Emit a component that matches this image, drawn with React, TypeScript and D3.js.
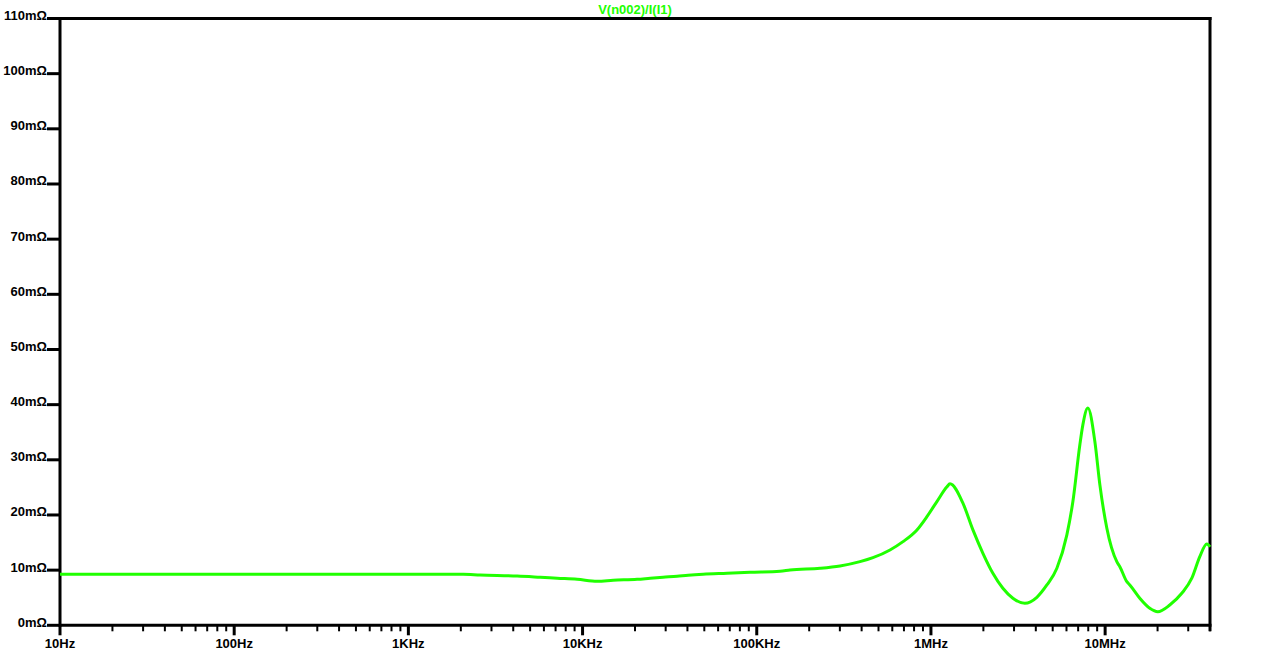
import React from "react";
import * as d3 from "d3";

const freqHz = [
  10, 2065, 2585, 4217, 5714, 7146, 9310, 12130, 14980, 20560, 24430, 29000, 34890, 40360, 49200,
  67530, 91500, 136100, 155200, 230800, 300600, 391500, 464500, 582000, 691000, 831000, 948500,
  1.082e6, 1.236e6, 1.286e6, 1.526e6, 1.742e6, 1.988e6, 2.268e6, 2.588e6, 2.954e6, 3.46e6, 4.055e6,
  4.63e6, 5.284e6, 6.03e6, 6.53e6, 7.16e6, 7.45e6, 7.96e6, 8.73e6, 9.33e6, 1.023e7, 1.167e7, 1.215e7,
  1.332e7, 1.386e7, 1.581e7, 1.805e7, 2.006e7, 2.35e7, 2.754e7, 3.145e7, 3.495e7, 3.833e7, 4.0e7,
];

const impedanceMilliOhm = [
  9.25, 9.25, 9.12, 8.94, 8.71, 8.53, 8.34, 7.98, 8.16, 8.34, 8.53, 8.71, 8.89, 9.07, 9.25,
  9.43, 9.61, 9.8, 10.03, 10.34, 10.76, 11.54, 12.26, 13.66, 15.17, 17.29, 19.7,
  22.43, 25.1, 25.64, 22.14, 17.29, 13.06, 9.43, 6.71, 4.9, 3.99, 5.08,
  7.31, 10.34, 16.39, 22.43, 32.73, 36.33, 39.38, 33.32, 25.46, 17.6, 11.54, 10.63,
  7.91, 7.31, 4.9, 3.08, 2.46, 3.68, 5.8, 8.53, 12.45, 14.75, 14.23,
];

const xMajorTicks = [10, 100, 1e3, 1e4, 1e5, 1e6, 1e7];
const xTickLabels = ["10Hz", "100Hz", "1KHz", "10KHz", "100KHz", "1MHz", "10MHz"];
const yTicks = [0, 10, 20, 30, 40, 50, 60, 70, 80, 90, 100, 110];
const yTickLabels = yTicks.map((v) => `${v}mΩ`);
const traceTitle = "V(n002)/I(I1)";

const W = 1276;
const H = 653;
const LEFT = 60;
const RIGHT = 1210;
const TOP = 18.5;
const BOTTOM = 625.3;
const GREEN = "#20ff00";
const FONT = "'Liberation Sans', Arial, sans-serif";

export default function App() {
  const x = d3.scaleLog().domain([10, 4e7]).range([LEFT, RIGHT]);
  const y = d3.scaleLinear().domain([0, 110]).range([BOTTOM, TOP]);

  const data = freqHz.map((f, i) => [f, impedanceMilliOhm[i]] as [number, number]);
  const line = d3
    .line<[number, number]>()
    .x((d) => x(d[0]))
    .y((d) => y(d[1]))
    .curve(d3.curveMonotoneX);

  const minorTicks: number[] = [];
  for (let dec = 10; dec < 4e7; dec *= 10) {
    for (let m = 2; m <= 9; m++) {
      const f = dec * m;
      if (f <= 4e7) minorTicks.push(f);
    }
  }

  return (
    <svg
      width={W}
      height={H}
      style={{ position: "absolute", left: 0, top: 0, background: "#fff" }}
      fontFamily={FONT}
      fontWeight="bold"
      fontSize={13}
    >
      <text x={(LEFT + RIGHT) / 2} y={14} textAnchor="middle" fill={GREEN}>
        {traceTitle}
      </text>

      {/* minor x ticks */}
      {minorTicks.map((f, i) => (
        <line key={"mn" + i} x1={x(f)} x2={x(f)} y1={BOTTOM} y2={BOTTOM + 6} stroke="#000" strokeWidth={2} />
      ))}
      {/* major x ticks */}
      {xMajorTicks.map((f, i) => (
        <g key={"mj" + i}>
          <line x1={x(f)} x2={x(f)} y1={BOTTOM} y2={BOTTOM + 10} stroke="#000" strokeWidth={3} />
          <text x={x(f)} y={648} textAnchor="middle" fill="#000">
            {xTickLabels[i]}
          </text>
        </g>
      ))}

      {/* y ticks */}
      {yTicks.map((v, i) => (
        <g key={"y" + i}>
          <line x1={47} x2={LEFT} y1={y(v)} y2={y(v)} stroke="#000" strokeWidth={3} />
          <text x={47} y={y(v) + 1.5} textAnchor="end" fill="#000">
            {yTickLabels[i]}
          </text>
        </g>
      ))}

      {/* frame */}
      <line x1={LEFT} x2={LEFT} y1={TOP - 1.5} y2={BOTTOM + 1.5} stroke="#000" strokeWidth={3} />
      <line x1={LEFT} x2={RIGHT + 1.5} y1={TOP} y2={TOP} stroke="#000" strokeWidth={3} />
      <line x1={RIGHT} x2={RIGHT} y1={TOP - 1.5} y2={BOTTOM + 6} stroke="#000" strokeWidth={3} />
      <line x1={LEFT} x2={RIGHT + 1.5} y1={BOTTOM} y2={BOTTOM} stroke="#000" strokeWidth={3} />

      <path d={line(data) || ""} fill="none" stroke={GREEN} strokeWidth={3} strokeLinejoin="round" />
    </svg>
  );
}
